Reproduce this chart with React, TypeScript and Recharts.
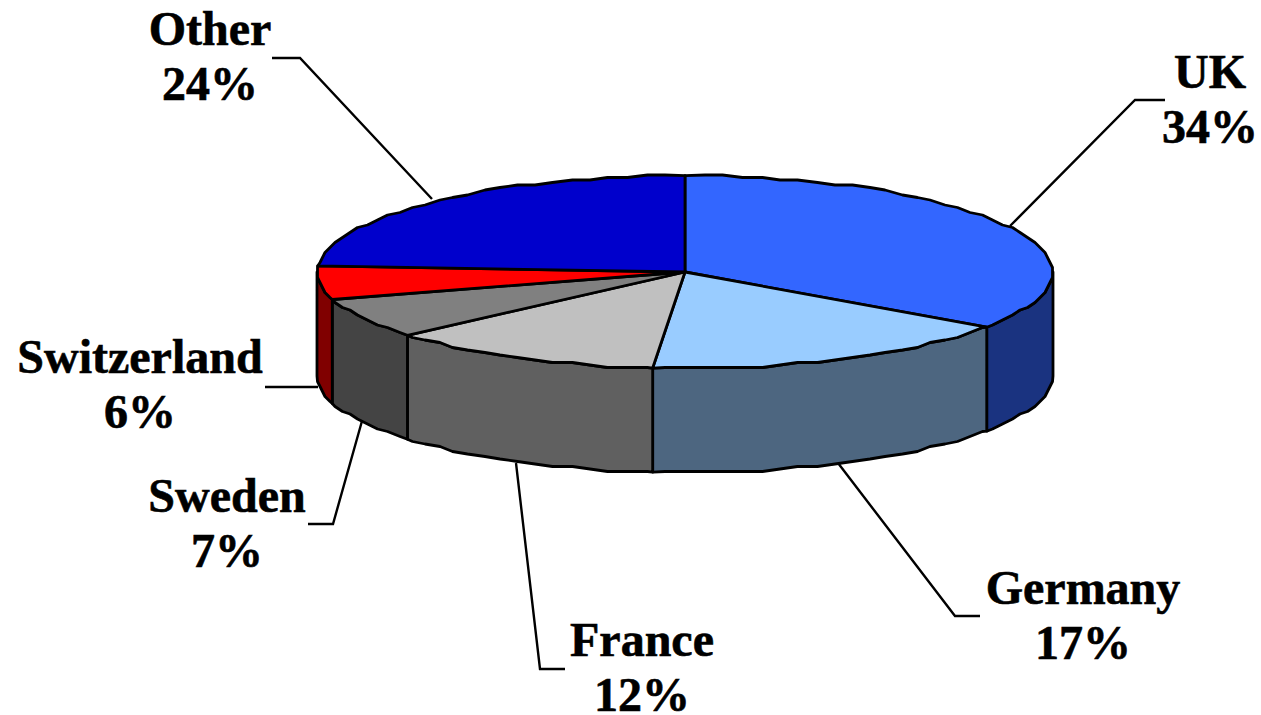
import { PieChart, Pie } from 'recharts'

const names = ['UK', 'Germany', 'France', 'Sweden', 'Switzerland', 'Other']
const shares = [34.7, 16.7, 12.2, 6.8, 5.6, 24.0]
const shareLabels = ['34%', '17%', '12%', '7%', '6%', '24%']
const topColors = ['#3366FF', '#99CCFF', '#C0C0C0', '#808080', '#FF0000', '#0000CC']
const sideColors = ['#1A3380', '#4D6680', '#606060', '#444444', '#800000', '#000066']

// label centre, first baseline, and the leader line from rim to label
const labelLayout = [
  { x: 1210, y: 88, line: '1010,226 1135,100 1165,100' },
  { x: 1083, y: 604, line: '838,463 955,616 980,616' },
  { x: 642, y: 656, line: '516,463 540,669 565,669' },
  { x: 227, y: 512, line: '362,421 333,524 308,524' },
  { x: 140, y: 373, line: '318,387 265,387' },
  { x: 210, y: 45, line: '432,199 300,58 272,58' },
]

const TILT = 0.262
const DEPTH = 104
const FONT_SIZE = 48
const LINE_GAP = 55

const rows = names.map((name, i) => ({
  name,
  value: shares[i],
  fill: topColors[i],
  side: sideColors[i],
}))

const RAD = Math.PI / 180

// the rim looks slightly stepped in the original, so snap to a coarse grid
function snap(v: number) {
  return Math.round(v / 2.5) * 2.5
}

function rim(cx: number, cy: number, r: number, from: number, to: number, dy = 0) {
  const pts: string[] = []
  const at = (a: number, exact: boolean) => {
    const x = cx + r * Math.cos(a * RAD)
    const y = cy - r * TILT * Math.sin(a * RAD)
    pts.push(exact ? `${x},${y + dy}` : `${snap(x)},${snap(y) + dy}`)
  }
  at(from, true)
  let a = Math.floor(from / 3) * 3
  while (a > to) {
    if (a !== from) at(a, false)
    a -= 3
  }
  at(to, true)
  return pts
}

function TiltedSlice(props: any) {
  const { cx, cy, outerRadius: r, startAngle, endAngle, fill, payload } = props
  const side = props.side ?? payload?.side
  const stroke = { stroke: '#000', strokeWidth: 2.8, strokeLinejoin: 'round' as const }

  const a0 = Math.max(startAngle, endAngle)
  const a1 = Math.min(startAngle, endAngle)
  // only the part of the rim on the near half of the ellipse has a wall
  const wallFrom = Math.min(a0, 0)
  const wallTo = Math.max(a1, -180)
  const hasWall = wallFrom > wallTo

  return (
    <g>
      {hasWall && (
        <polygon
          points={[
            ...rim(cx, cy, r, wallFrom, wallTo),
            ...rim(cx, cy, r, wallFrom, wallTo, DEPTH).reverse(),
          ].join(' ')}
          fill={side}
          {...stroke}
        />
      )}
      <polygon points={[`${cx},${cy}`, ...rim(cx, cy, r, a0, a1)].join(' ')} fill={fill} {...stroke} />
    </g>
  )
}

function SliceLabel(props: any) {
  const { index } = props
  const spot = labelLayout[index]
  const textStyle = {
    fontFamily: '"Liberation Serif", serif',
    fontWeight: 700,
    fontSize: FONT_SIZE,
    fill: '#000',
    stroke: '#000',
    strokeWidth: 0.6,
  }
  return (
    <g>
      <polyline points={spot.line} fill="none" stroke="#000" strokeWidth={2.4} />
      <text x={spot.x} y={spot.y} textAnchor="middle" style={textStyle}>
        {names[index]}
      </text>
      <text x={spot.x} y={spot.y + LINE_GAP} textAnchor="middle" style={textStyle}>
        {shareLabels[index]}
      </text>
    </g>
  )
}

export default function App() {
  return (
    <div style={{ position: 'absolute', left: 0, top: 0, width: 1261, height: 715, background: '#fff' }}>
      <PieChart width={1261} height={715} margin={{ top: 0, right: 0, bottom: 0, left: 0 }}>
        <Pie
          data={rows}
          dataKey="value"
          nameKey="name"
          cx={685}
          cy={272}
          outerRadius={368}
          startAngle={90}
          endAngle={-270}
          stroke="none"
          shape={TiltedSlice}
          label={SliceLabel}
          labelLine={false}
          isAnimationActive={false}
        />
      </PieChart>
    </div>
  )
}
